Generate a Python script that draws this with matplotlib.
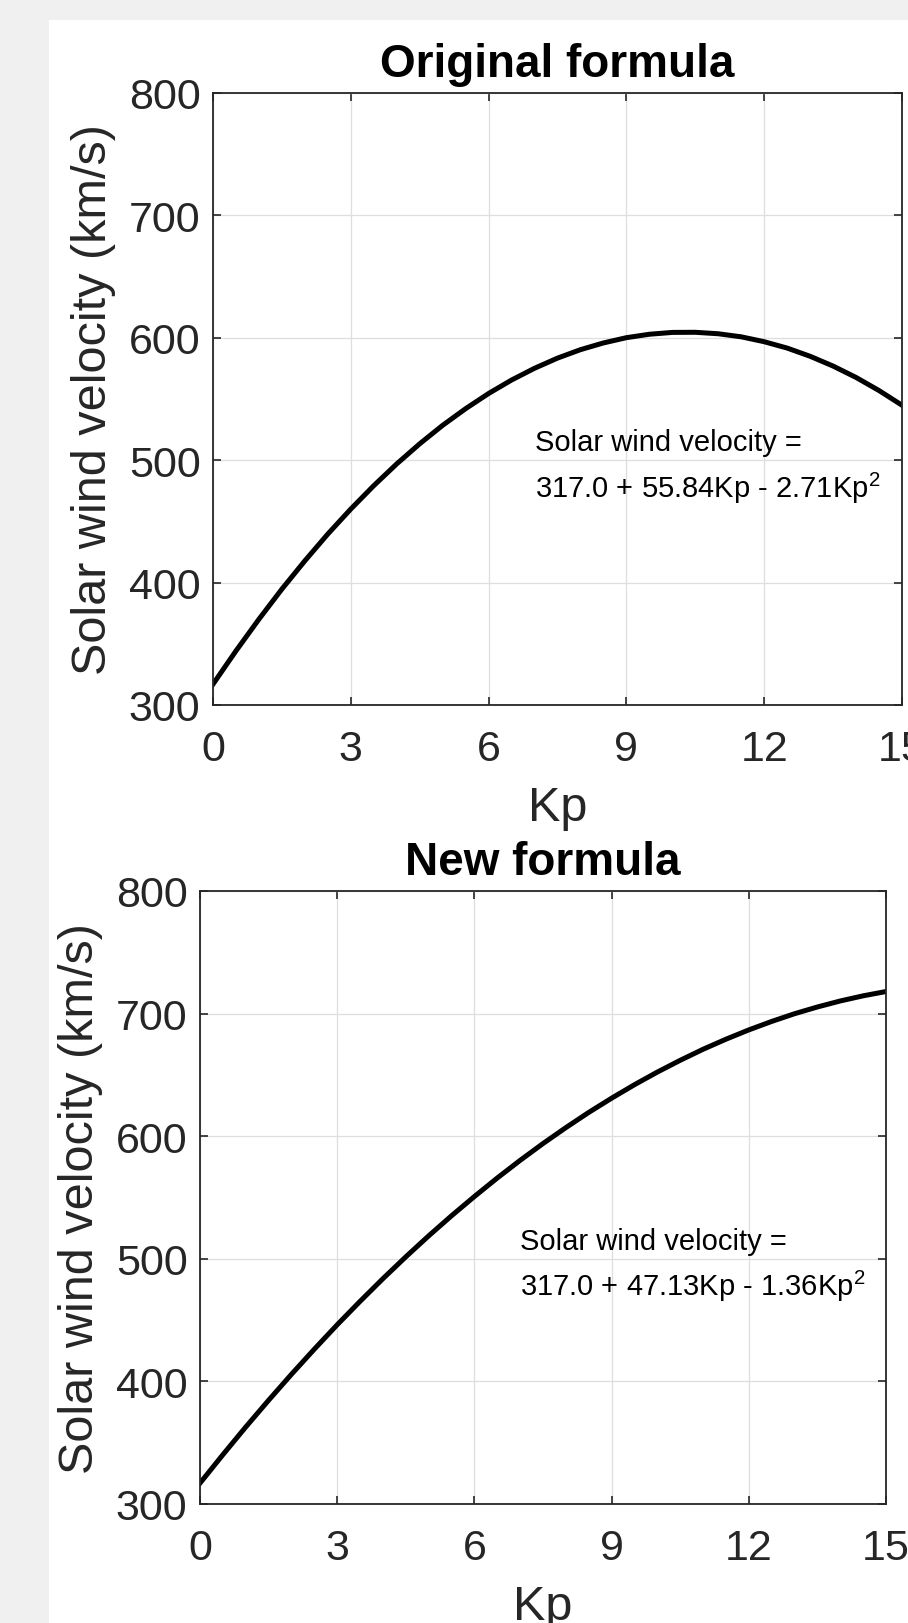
import matplotlib
matplotlib.use('Agg')
import matplotlib.pyplot as plt
from matplotlib.patches import Rectangle

plt.rcParams['font.family'] = ['Liberation Sans', 'DejaVu Sans']
plt.rcParams['mathtext.fontset'] = 'custom'
plt.rcParams['mathtext.rm'] = 'Liberation Sans'
plt.rcParams['mathtext.it'] = 'Liberation Sans'

# Kp values and solar wind velocity
kp = [0, 0.5, 1, 1.5, 2, 2.5, 3, 3.5, 4, 4.5, 5, 5.5, 6, 6.5, 7, 7.5,
      8, 8.5, 9, 9.5, 10, 10.5, 11, 11.5, 12, 12.5, 13, 13.5, 14, 14.5, 15]
v_original = [317.0, 344.2, 370.1, 394.7, 417.8, 439.7, 460.1, 479.2,
              497.0, 513.4, 528.5, 542.1, 554.5, 565.5, 575.1, 583.4,
              590.3, 595.8, 600.1, 602.9, 604.4, 604.5, 603.3, 600.8,
              596.8, 591.6, 584.9, 576.9, 567.6, 556.9, 544.9]
v_new = [317.0, 340.2, 362.8, 384.6, 405.8, 426.3, 446.2, 465.3,
         483.8, 501.6, 518.7, 535.1, 550.8, 565.9, 580.3, 594.0,
         607.0, 619.4, 631.0, 642.0, 652.3, 661.9, 670.9, 679.1,
         686.7, 693.6, 699.9, 705.4, 710.3, 714.5, 718.0]

titles = ['Original formula', 'New formula']
formulas = ['Solar wind velocity =\n317.0 + 55.84Kp - 2.71Kp$^2$',
            'Solar wind velocity =\n317.0 + 47.13Kp - 1.36Kp$^2$']
x_ticks = [0, 3, 6, 9, 12, 15]
y_ticks = [300, 400, 500, 600, 700, 800]
text_pos = (7, 495)

W, H = 908, 1624
fig = plt.figure(figsize=(W / 100, H / 100), dpi=100, facecolor='#f0f0f0')
bg = Rectangle((49 / W, 0), 1 - 49 / W, 1 - 21 / H, transform=fig.transFigure,
               facecolor='white', edgecolor='none', zorder=-10)
fig.add_artist(bg)

boxes = [(213, 94, 689, 612), (200, 892, 686, 613)]
series = [v_original, v_new]
dark = '#262626'

for i in range(2):
    l, t, w, h = boxes[i]
    ax = fig.add_axes([l / W, 1 - (t + h) / H, w / W, h / H])
    ax.plot(kp, series[i], color='black', lw=3.6, solid_joinstyle='round')
    ax.set_xlim(0, 15)
    ax.set_ylim(300, 800)
    ax.set_xticks(x_ticks)
    ax.set_yticks(y_ticks)
    ax.grid(True, color='#dedede', lw=0.9)
    ax.set_axisbelow(True)
    ax.tick_params(direction='in', length=6, width=1.2, colors=dark,
                   labelsize=31, top=True, right=True)
    ax.tick_params(axis='x', pad=17)
    ax.tick_params(axis='y', pad=9)
    for s in ax.spines.values():
        s.set_color(dark)
        s.set_linewidth(1.3)
    ax.set_xlabel('Kp', fontsize=35, color=dark, labelpad=12)
    ax.set_ylabel('Solar wind velocity (km/s)', fontsize=35, color=dark, labelpad=9)
    ax.set_title(titles[i], fontsize=33, fontweight='bold', color='black', pad=12)
    ax.text(text_pos[0], text_pos[1], formulas[i], fontsize=21, color='black',
            va='center', ha='left', linespacing=1.5)

fig.savefig('out.png', dpi=100, facecolor=fig.get_facecolor())
